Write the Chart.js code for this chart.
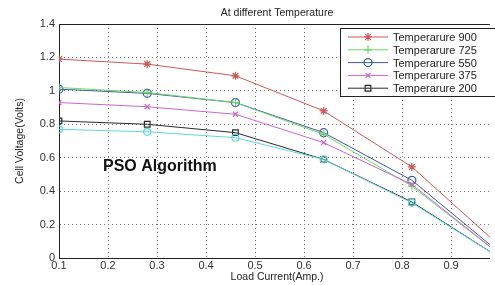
<!DOCTYPE html>
<html>
<head>
<meta charset="utf-8">
<script src="https://cdn.jsdelivr.net/npm/chart.js@4"></script>
<style>
  html, body { margin: 0; padding: 0; background: #fff; }
  #wrap { width: 495px; height: 285px; }
</style>
</head>
<body>
<div id="wrap"><canvas id="grafico" width="495" height="285"></canvas></div>
<script>
// load current (Amp.)
var corriente = [0.1, 0.28, 0.46, 0.64, 0.82, 1.0];

// cell voltage (Volts) per temperature
var temp900 = [1.19, 1.16, 1.09, 0.88, 0.545, 0.07];
var temp725 = [1.02, 0.99, 0.93, 0.74, 0.43, 0.02];
var temp550 = [1.01, 0.985, 0.93, 0.75, 0.465, 0.03];
var temp375 = [0.93, 0.905, 0.86, 0.69, 0.44, 0.02];
var temp200 = [0.82, 0.80, 0.75, 0.59, 0.335, 0.0];
var tempExtra = [0.77, 0.755, 0.72, 0.59, 0.33, 0.0];

var etiquetas = ["Temperarure 900", "Temperarure 725", "Temperarure 550", "Temperarure 375", "Temperarure 200"];
var xTicks = [0.1, 0.2, 0.3, 0.4, 0.5, 0.6, 0.7, 0.8, 0.9];
var yTicks = [0, 0.2, 0.4, 0.6, 0.8, 1, 1.2, 1.4];

function puntos(serie) {
  return serie.map(function (v, i) { return { x: corriente[i], y: v }; });
}

function serie(label, valores, color, estilo, radio) {
  return {
    label: label,
    data: puntos(valores),
    borderColor: color,
    backgroundColor: "rgba(0,0,0,0)",
    pointBorderColor: color,
    pointBackgroundColor: "rgba(0,0,0,0)",
    borderWidth: 1,
    pointStyle: estilo,
    pointRadius: radio,
    pointBorderWidth: 1.2,
    tension: 0
  };
}

var datasets = [
  serie("", tempExtra, "#5fd8d8", "circle", 3.5),
  serie(etiquetas[4], temp200, "#2a2a2a", "rect", 4),
  serie(etiquetas[3], temp375, "#cc66cc", "crossRot", 3.5),
  serie(etiquetas[1], temp725, "#6ad86a", "cross", 4),
  serie(etiquetas[2], temp550, "#405c96", "circle", 4),
  serie(etiquetas[0], temp900, "#c85a5a", "star", 4)
];

// orden de la leyenda
var leyenda = [5, 3, 4, 2, 1];

var textos = {
  id: "textos",
  afterDraw: function (chart) {
    var ctx = chart.ctx;
    var area = chart.chartArea;
    ctx.save();
    // top border
    ctx.strokeStyle = "#222";
    ctx.lineWidth = 1;
    ctx.beginPath();
    ctx.moveTo(area.left, area.top + 0.5);
    ctx.lineTo(area.right, area.top + 0.5);
    ctx.stroke();

    // title
    ctx.fillStyle = "#222";
    ctx.font = "10.5px Arial, 'Liberation Sans'";
    ctx.textAlign = "center";
    ctx.textBaseline = "middle";
    ctx.fillText("At different Temperature", 277, 13);

    // x label
    ctx.fillText("Load Current(Amp.)", 277, 277);

    // y label
    ctx.save();
    ctx.translate(20, 141);
    ctx.rotate(-Math.PI / 2);
    ctx.fillText("Cell Voltage(Volts)", 0, 0);
    ctx.restore();

    // PSO text
    ctx.font = "bold 16px Arial, 'Liberation Sans'";
    ctx.fillStyle = "#111";
    ctx.textAlign = "left";
    ctx.fillText("PSO Algorithm", 103, 167);

    // legend
    var bx = 340, by = 28, bw = 160, bh = 68;
    ctx.fillStyle = "#fff";
    ctx.fillRect(bx, by, bw, bh);
    ctx.strokeStyle = "#222";
    ctx.strokeRect(bx + 0.5, by + 0.5, bw, bh);
    ctx.font = "11px Arial, 'Liberation Sans'";
    for (var i = 0; i < leyenda.length; i++) {
      var ds = chart.data.datasets[leyenda[i]];
      var yy = 37 + i * 12.8;
      ctx.strokeStyle = ds.borderColor;
      ctx.lineWidth = 1;
      ctx.beginPath();
      ctx.moveTo(348, yy);
      ctx.lineTo(388, yy);
      ctx.stroke();
      ctx.fillStyle = "rgba(0,0,0,0)";
      ctx.lineWidth = 1.2;
      Chart.helpers.drawPoint(ctx, {
        pointStyle: ds.pointStyle,
        radius: ds.pointRadius,
        borderWidth: 1.2,
        rotation: 0
      }, 368, yy);
      ctx.fillStyle = "#222";
      ctx.textAlign = "left";
      ctx.fillText(ds.label, 393, yy + 1);
    }
    ctx.restore();
  }
};

var canvas = document.getElementById("grafico");
var grafico = new Chart(canvas, {
  type: "line",
  data: { datasets: datasets },
  options: {
    responsive: false,
    animation: false,
    layout: { padding: { top: 24, right: 0, left: 0, bottom: 0 } },
    plugins: { legend: { display: false }, title: { display: false }, tooltip: { enabled: false } },
    scales: {
      x: {
        type: "linear",
        min: 0.1,
        max: 0.979,
        afterBuildTicks: function (axis) {
          axis.ticks = xTicks.map(function (v) { return { value: v }; });
        },
        afterFit: function (axis) { axis.height = 27; },
        ticks: {
          color: "#333",
          font: { size: 11, family: "Arial, 'Liberation Sans'" },
          padding: 1,
          maxRotation: 0,
          callback: function (v) { return String(Math.round(v * 10) / 10); }
        },
        grid: { color: "#777", lineWidth: 1, drawTicks: false },
        border: { color: "#222", width: 1, dash: [1, 3] }
      },
      y: {
        type: "linear",
        min: 0,
        max: 1.4,
        afterBuildTicks: function (axis) {
          axis.ticks = yTicks.map(function (v) { return { value: v }; });
        },
        afterFit: function (axis) { axis.width = 59; },
        ticks: {
          color: "#333",
          font: { size: 11, family: "Arial, 'Liberation Sans'" },
          padding: 4,
          callback: function (v) { return String(Math.round(v * 10) / 10); }
        },
        grid: { color: "#777", lineWidth: 1, drawTicks: false },
        border: { color: "#222", width: 1, dash: [1, 3] }
      }
    }
  },
  plugins: [textos]
});
</script>
</body>
</html>
